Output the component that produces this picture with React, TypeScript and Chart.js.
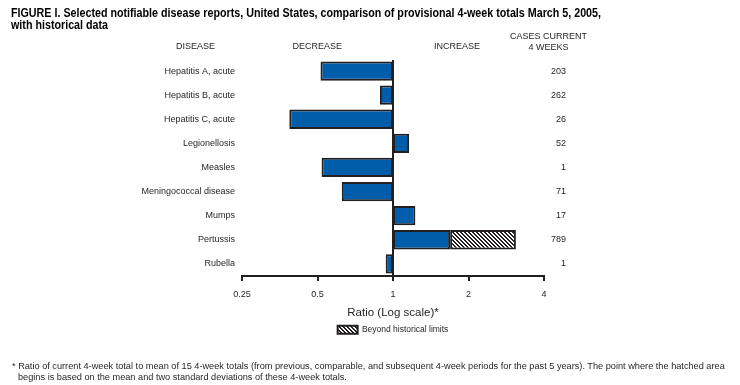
import React, { useEffect, useRef, useState } from 'react';
import { Chart, registerables } from 'chart.js';

Chart.register(...registerables);

// ---- data ----
const diseases = [
  'Hepatitis A, acute',
  'Hepatitis B, acute',
  'Hepatitis C, acute',
  'Legionellosis',
  'Measles',
  'Meningococcal disease',
  'Mumps',
  'Pertussis',
  'Rubella',
];
const ratios = [0.514, 0.887, 0.386, 1.159, 0.519, 0.625, 1.228, 3.09, 0.935];
const historicalLimit = [null, null, null, null, null, null, null, 1.69, null];
const casesCurrent4Weeks = ['203', '262', '26', '52', '1', '71', '17', '789', '1'];
const tickValues = [0.25, 0.5, 1, 2, 4];

const TITLE_LINE_1 =
  'FIGURE I. Selected notifiable disease reports, United States, comparison of provisional 4-week totals March 5, 2005,';
const TITLE_LINE_2 = 'with historical data';

const BLUE = '#005DA9';
const INK = '#231F20';
const FONT = '"Liberation Sans", Arial, Helvetica, sans-serif';

function makeHatch() {
  const c = document.createElement('canvas');
  c.width = 4;
  c.height = 4;
  const g = c.getContext('2d');
  if (!g) return '#888';
  g.fillStyle = '#ffffff';
  g.fillRect(0, 0, 4, 4);
  g.fillStyle = INK;
  for (let i = 0; i < 4; i++) {
    g.fillRect(i, i, 1, 1);
    g.fillRect((i + 1) % 4, i, 1, 1);
  }
  return g.createPattern(c, 'repeat') || '#888';
}

const centerLine = {
  id: 'centerLine',
  afterDatasetsDraw(chart: any) {
    const ctx = chart.ctx;
    const x = chart.scales.x.getPixelForValue(1);
    const { top, bottom } = chart.chartArea;
    ctx.save();
    ctx.strokeStyle = INK;
    ctx.lineWidth = 2;
    ctx.beginPath();
    ctx.moveTo(x, top + 1);
    ctx.lineTo(x, bottom);
    ctx.stroke();
    ctx.restore();
  },
};

export default function App() {
  const ref = useRef<HTMLCanvasElement | null>(null);
  const [titleScale, setTitleScale] = useState(0.8);

  useEffect(() => {
    // condense the bold title to the reference's narrow face width
    const m = document.createElement('canvas').getContext('2d');
    if (m) {
      m.font = 'bold 12.5px "Liberation Sans", Arial, sans-serif';
      const w = m.measureText(TITLE_LINE_1).width;
      if (w > 0) setTitleScale(590 / w);
    }
  }, []);

  useEffect(() => {
    if (!ref.current) return;
    const hatch = makeHatch();
    const blueData = ratios.map((r, i) => {
      const lim = historicalLimit[i];
      if (lim != null) return [1, lim];
      return [Math.min(1, r), Math.max(1, r)];
    });
    const hatchData = ratios.map((r, i) => {
      const lim = historicalLimit[i];
      return lim != null ? [lim, r] : null;
    });

    const chart = new Chart(ref.current, {
      type: 'bar',
      data: {
        labels: diseases,
        datasets: [
          {
            label: 'Ratio',
            data: blueData as any,
            backgroundColor: BLUE,
            borderColor: INK,
            borderWidth: 2,
            borderSkipped: false,
            barPercentage: 0.8,
            categoryPercentage: 1,
            grouped: false,
          } as any,
          {
            label: 'Beyond historical limits',
            data: hatchData as any,
            backgroundColor: hatch as any,
            borderColor: INK,
            borderWidth: 2,
            borderSkipped: false,
            barPercentage: 0.8,
            categoryPercentage: 1,
            grouped: false,
          } as any,
        ],
      },
      options: {
        indexAxis: 'y',
        animation: false,
        responsive: false,
        devicePixelRatio: 1,
        layout: { padding: { top: 59, left: 0, right: 174, bottom: 41 } },
        scales: {
          x: {
            type: 'logarithmic',
            min: 0.25,
            max: 4,
            position: 'bottom',
            afterBuildTicks: (s: any) => {
              s.ticks = tickValues.map((v) => ({ value: v }));
            },
            afterFit: (s: any) => {
              s.height = 43.6;
            },
            ticks: {
              callback: (v: any) => String(v),
              font: { family: FONT, size: 9 },
              color: INK,
              padding: 8.5,
              autoSkip: false,
              maxRotation: 0,
            },
            grid: {
              display: true,
              drawOnChartArea: false,
              drawTicks: true,
              tickLength: 5,
              lineWidth: 2,
              color: INK,
            },
            border: { display: true, width: 2, color: INK },
            title: {
              display: true,
              text: 'Ratio (Log scale)*',
              font: { family: FONT, size: 11.5 },
              color: INK,
              padding: 0,
            },
          } as any,
          y: {
            type: 'category',
            position: 'left',
            afterFit: (s: any) => {
              s.width = 242;
            },
            grid: { display: false, drawTicks: false },
            border: { display: false },
            ticks: { font: { family: FONT, size: 9 }, color: INK, padding: 7, autoSkip: false },
          } as any,
          y2: {
            type: 'category',
            position: 'right',
            labels: casesCurrent4Weeks,
            offset: true,
            afterFit: (s: any) => {
              s.width = 22;
            },
            grid: { display: false, drawTicks: false },
            border: { display: false },
            ticks: {
              crossAlign: 'far',
              font: { family: FONT, size: 9 },
              color: INK,
              padding: 0,
              autoSkip: false,
            },
          } as any,
        },
        plugins: {
          legend: {
            display: true,
            position: 'bottom',
            fullSize: false,
            labels: {
              filter: (item: any) => item.datasetIndex === 1,
              boxWidth: 20,
              boxHeight: 8,
              padding: 6,
              font: { family: FONT, size: 8.5 },
              color: INK,
            },
          },
          title: { display: false },
          tooltip: { enabled: false },
        },
      } as any,
      plugins: [centerLine],
    });
    return () => chart.destroy();
  }, []);

  const abs = (style: React.CSSProperties): React.CSSProperties => ({
    position: 'absolute',
    whiteSpace: 'nowrap',
    color: INK,
    margin: 0,
    ...style,
  });

  return (
    <div style={{ position: 'fixed', left: 0, top: 0, width: 740, height: 385, background: '#fff', overflow: 'hidden' }}>
      <canvas ref={ref} width={740} height={385} style={{ position: 'absolute', left: 0, top: 0, width: 740, height: 385 }} />
      <div
        style={abs({
          left: 11,
          top: 6.8,
          fontFamily: FONT,
          fontWeight: 'bold',
          fontSize: 12.5,
          lineHeight: '12.5px',
          color: '#000',
          transform: `scaleX(${titleScale})`,
          transformOrigin: '0 0',
        })}
      >
        {TITLE_LINE_1}
        <br />
        {TITLE_LINE_2}
      </div>
      <div style={abs({ left: 176, top: 42.1, fontFamily: FONT, fontSize: 9, lineHeight: '9px' })}>DISEASE</div>
      <div style={abs({ left: 292.5, top: 42.1, fontFamily: FONT, fontSize: 9, lineHeight: '9px' })}>DECREASE</div>
      <div style={abs({ left: 434, top: 42.1, fontFamily: FONT, fontSize: 9, lineHeight: '9px' })}>INCREASE</div>
      <div style={abs({ left: 498.5, width: 100, top: 30.6, fontFamily: FONT, fontSize: 9, lineHeight: '11.5px', textAlign: 'center' })}>
        CASES CURRENT
        <br />
        4 WEEKS
      </div>
      <div style={abs({ left: 12, top: 361, paddingLeft: 6, textIndent: -6, fontFamily: FONT, fontSize: 9.2, lineHeight: '10.5px' })}>
        * Ratio of current 4-week total to mean of 15 4-week totals (from previous, comparable, and subsequent 4-week periods for the past 5 years). The point where the hatched area
        <br />
        begins is based on the mean and two standard deviations of these 4-week totals.
      </div>
    </div>
  );
}
